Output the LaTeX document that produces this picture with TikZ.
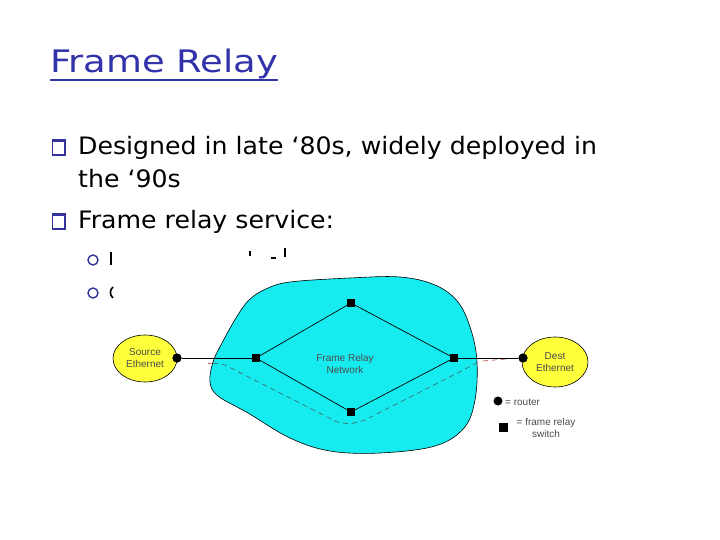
\documentclass[tikz,border=0pt]{standalone}
\usepackage{fontspec}
\setmainfont{DejaVu Sans}
\newfontfamily\titlefont[FakeStretch=1.19]{DejaVu Sans}
\newfontfamily\bodyfont[FakeStretch=1.05]{DejaVu Sans}
\newfontfamily\diagfont{Liberation Sans}
\usetikzlibrary{shapes.geometric}
\definecolor{navy}{RGB}{51,51,153}
\definecolor{titleblue}{RGB}{50,50,170}
\definecolor{cloud}{RGB}{22,236,240}
\definecolor{ethyellow}{RGB}{255,255,60}
\definecolor{pathred}{RGB}{170,40,30}
\begin{document}
\begin{tikzpicture}[x=1pt,y=-1pt,
  sw/.style={fill=black,minimum size=8pt,inner sep=0pt},
  rt/.style={circle,fill=black,minimum size=9pt,inner sep=0pt},
  eth/.style={ellipse,draw=black,line width=0.6pt,fill=ethyellow,inner sep=0pt,
    font=\diagfont\fontsize{10}{12}\selectfont,align=center,text=black!70},
  lbl/.style={font=\diagfont\fontsize{10}{12}\selectfont,text=black!70,align=center,inner sep=0pt},
  body/.style={anchor=base west,inner sep=0pt,font=\bodyfont\fontsize{24}{28}\selectfont},
  bullbox/.style={draw=navy,line width=1.2pt},
  subbull/.style={draw=navy,line width=1.4pt},
  link/.style={black,line width=0.7pt},
  vcpath/.style={black!70,line width=0.5pt,dash pattern=on 5pt off 4pt},
  vcred/.style={pathred,line width=0.6pt,dash pattern=on 5pt off 4pt}]
\useasboundingbox (0,0) rectangle (720,540);
\fill[white] (0,0) rectangle (720,540);

% title
\node[anchor=base west,inner sep=0pt,text=titleblue,font=\titlefont\fontsize{31}{36}\selectfont] (title) at (50,73) {Frame Relay};
\draw[titleblue,line width=2pt] ([yshift=-7pt]title.base west) -- ([yshift=-7pt]title.base east);

% bullets
\node[body] (b1) at (78,155) {Designed in late ‘80s, widely deployed in};
\node[body] (b1b) at (78,188) {the ‘90s};
\node[body] (b2) at (78,229) {Frame relay service:};
\draw[bullbox] (52.5,141) rectangle (65,155);
\fill[navy] (52,139.5) rectangle (65.6,142.5);
\draw[bullbox] (52.5,215) rectangle (65,229);
\fill[navy] (52,213.5) rectangle (65.6,216.5);
\draw[subbull] (93,260) circle (5);
\draw[subbull] (93,293) circle (5);
% glyph fragments peeking out
\draw[black,line width=1.6pt] (111,252) -- (111,265);
\draw[black,line width=1.6pt] (250,251) -- (250,256);
\draw[black,line width=1.6pt] (271,258) -- (276,258);
\draw[black,line width=1.6pt] (285,248) -- (285,257);
\draw[black,line width=1.6pt] (113,287) .. controls (109.5,290) and (109.5,295) .. (113,298);

% cloud
\filldraw[fill=cloud,draw=black,line width=0.6pt] plot[smooth cycle,tension=0.6] coordinates {
 (290,282) (350,278) (400,277) (435,285) (458,302) (471,330) (477,362) (475,400)
 (464,428) (435,446) (380,453) (330,451) (290,438) (248,413) (218,396) (210,382)
 (213,362) (222,343) (236,318) (249,300) (266,289)};

% virtual-circuit path
\coordinate (p0) at (213,363);
\coordinate (p1) at (225,365);
\coordinate (p2) at (337,422);
\coordinate (p3) at (350,424);
\coordinate (p4) at (365,420);
\coordinate (p5) at (477,363);
\coordinate (q0) at (483,361);
\coordinate (q1) at (517,358);
\coordinate (r0) at (208,363.5);
\draw[vcpath] (p0) -- (p1) -- (p2) -- (p3) -- (p4) -- (p5);
\draw[vcred] (q0) -- (q1);
\draw[pathred,line width=0.6pt] (r0) -- (p0);

% hosts
\node[eth,minimum width=64pt,minimum height=47pt] (src) at (145,358.5) {Source\\Ethernet};
\node[eth,minimum width=66pt,minimum height=50pt] (dst) at (555,362) {Dest\\Ethernet};

% routers and switches
\node[rt] (rL) at (177,358) {};
\node[rt] (rR) at (523,358) {};
\node[sw] (sL) at (256,358) {};
\node[sw] (sT) at (351,303) {};
\node[sw] (sR) at (454,358) {};
\node[sw] (sB) at (351,412) {};

\draw[link] (rL) -- (sL);
\draw[link] (sL) -- (sT) -- (sR) -- (sB) -- (sL);
\draw[link] (sR) -- (rR);
\node[rt] at (rL) {};
\node[rt] at (rR) {};

\node[lbl] (net) at (345,364) {Frame Relay\\Network};

% legend
\node[rt] (legR) at (498,401) {};
\node[lbl,anchor=west] (legRt) at (505,402) {= router};
\node[sw,minimum size=9pt] (legS) at (503,427) {};
\node[lbl,anchor=north] (legSt) at (546,418) {= frame relay\\switch};
\end{tikzpicture}
\end{document}
